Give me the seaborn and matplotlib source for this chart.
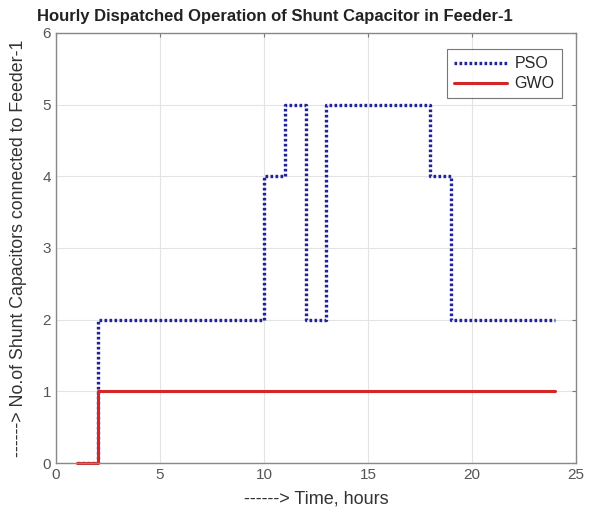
import matplotlib
matplotlib.use("Agg")
import matplotlib.pyplot as plt
import seaborn as sns
import pandas as pd

hours = list(range(1, 25))
pso = [0, 2, 2, 2, 2, 2, 2, 2, 2, 4, 5, 2, 5, 5, 5, 5, 5, 4, 2, 2, 2, 2, 2, 2]
gwo = [0] + [1] * 23
x_ticks = [0, 5, 10, 15, 20, 25]
y_ticks = [0, 1, 2, 3, 4, 5, 6]

df = pd.DataFrame({"hour": hours, "PSO": pso, "GWO": gwo})

sns.set_style("white")
plt.rcParams['font.family'] = ['Liberation Sans', 'DejaVu Sans']

fig = plt.figure(figsize=(5.98, 5.21), dpi=100)
ax = fig.add_axes([0.0936, 0.111, 0.8695, 0.826])

sns.lineplot(data=df, x="hour", y="PSO", ax=ax, color="#22229a",
             linewidth=2.4, dashes=False, drawstyle="steps-post", label="PSO")
ax.lines[-1].set_dashes((0.8, 0.7))
ax.lines[-1].set_dash_capstyle("butt")
sns.lineplot(data=df, x="hour", y="GWO", ax=ax, color="#d42626", linestyle="-",
             linewidth=2.2, drawstyle="steps-post", label="GWO")
ax.lines[-1].set_clip_on(False)

ax.set_xlim(0, 25)
ax.set_ylim(0, 6)
ax.set_xticks(x_ticks)
ax.set_yticks(y_ticks)
ax.grid(True, color="#e3e3e3", linewidth=0.8)
ax.tick_params(direction="in", length=3, colors="#777777", labelsize=11,
               top=True, right=True, labelcolor="#555555")
for s in ax.spines.values():
    s.set_color("#888888")
    s.set_linewidth(1.0)

ax.set_xlabel("------> Time, hours", fontsize=13, color="#333333", labelpad=6)
ax.set_ylabel("------> No.of Shunt Capacitors connected to Feeder-1", fontsize=12.8,
              color="#333333")
ax.yaxis.set_label_coords(-0.056, 0.5)
fig.text(0.46, 0.969, "Hourly Dispatched Operation of Shunt Capacitor in Feeder-1",
         fontsize=12, fontweight="bold", color="#222222", ha="center", va="center")

leg = ax.legend(loc="upper right", bbox_to_anchor=(0.973, 0.962), fontsize=11.5,
                frameon=True, fancybox=False, edgecolor="#555555",
                handlelength=3.3, borderpad=0.45, labelspacing=0.3,
                handletextpad=0.5, borderaxespad=0)
leg.get_frame().set_linewidth(0.8)
leg.get_lines()[0].set_dashes((0.8, 0.7))

fig.savefig("out.png", dpi=100)
